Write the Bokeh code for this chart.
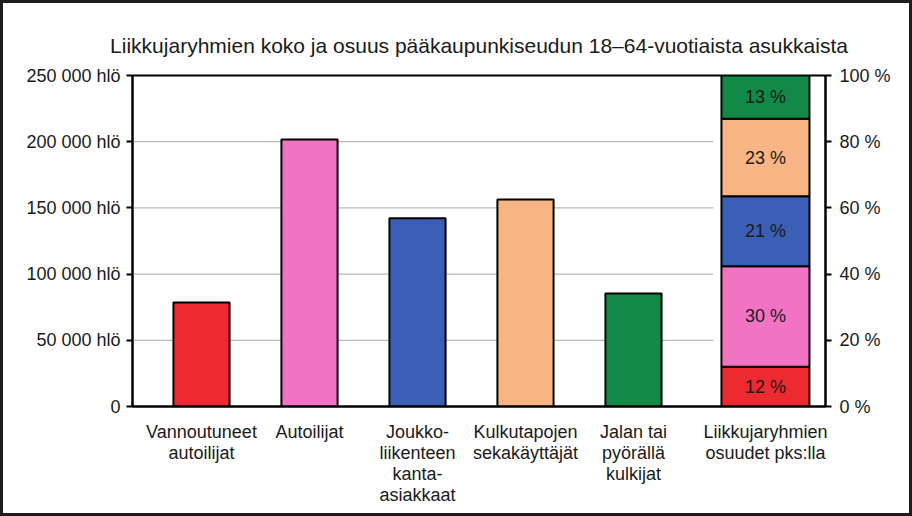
from bokeh.plotting import figure
from bokeh.models import Range1d, LinearAxis, FixedTicker, ColumnDataSource
from bokeh.core.properties import value
from bokeh.embed import file_html
from bokeh.resources import INLINE

# ---------------- data ----------------
title_text = "Liikkujaryhmien koko ja osuus pääkaupunkiseudun 18–64-vuotiaista asukkaista"
categories = [
    "Vannoutuneet\nautoilijat",
    "Autoilijat",
    "Joukko-\nliikenteen\nkanta-\nasiakkaat",
    "Kulkutapojen\nsekakäyttäjät",
    "Jalan tai\npyörällä\nkulkijat",
]
group_sizes = [78500, 201600, 142100, 156400, 85300]
share_category = "Liikkujaryhmien\nosuudet pks:lla"
shares = [12.0, 30.4, 21.1, 23.4, 13.1]  # %, bottom to top, same order as categories
colors = ["#ec2a30", "#f273c3", "#3b5fb6", "#f7b583", "#128a47"]
left_ticks = [0, 50000, 100000, 150000, 200000, 250000]
left_tick_labels = ["0", "50 000 hlö", "100 000 hlö", "150 000 hlö", "200 000 hlö", "250 000 hlö"]
right_ticks = [0, 20, 40, 60, 80, 100]
right_tick_labels = ["0 %", "20 %", "40 %", "60 %", "80 %", "100 %"]

FONT = "Liberation Sans"
TXT = "#1a1a1a"

x_start, x_end = 0.361, 6.778
share_x = 6.222
grid_end = 5.74

p = figure(
    width=912, height=516,
    x_range=Range1d(x_start, x_end),
    y_range=Range1d(0, 250000),
    output_backend="svg", toolbar_location=None,
    min_border_left=132, min_border_right=87, min_border_top=75, min_border_bottom=110,
    border_fill_color=None,
    background_fill_color="white",
    styles={"outline": "3px solid #1c1c1c", "outline-offset": "-3px",
            "background-color": "white"},
)
p.extra_y_ranges = {"pct": Range1d(0, 100)}

p.title.text = title_text
p.title.align = "center"
p.title.text_font = FONT
p.title.text_font_size = "21px"
p.title.text_font_style = "normal"
p.title.text_color = TXT
p.title.standoff = 38

p.outline_line_color = "black"
p.outline_line_width = 2
p.xgrid.visible = False
p.ygrid.visible = False

# grid lines
for v in left_ticks[1:-1]:
    p.segment(x0=x_start, y0=v, x1=grid_end, y1=v, line_color="#a8a8a8", line_width=1)

# bars
xs = [i + 1 for i in range(len(categories))]
src = ColumnDataSource(dict(x=xs, top=group_sizes, color=colors))
p.vbar(x="x", top="top", bottom=0, width=0.52, fill_color="color",
       line_color="black", line_width=2, source=src)

# stacked share bar
bottoms, tops, mids = [], [], []
acc = 0.0
for s in shares:
    bottoms.append(acc)
    tops.append(acc + s)
    mids.append(acc + s / 2)
    acc += s
ssrc = ColumnDataSource(dict(
    x=[share_x] * len(shares), bottom=bottoms, top=tops, mid=mids, color=colors,
    label=[f"{round(s)} %" for s in shares],
))
p.vbar(x="x", bottom="bottom", top="top", width=0.815, fill_color="color",
       line_color="black", line_width=2, source=ssrc, y_range_name="pct")
p.text(x="x", y="mid", text="label", source=ssrc, y_range_name="pct",
       text_align="center", text_baseline="middle",
       text_font=value(FONT), text_font_size="18px", text_color=TXT)

# left axis
ya = p.yaxis[0]
ya.ticker = FixedTicker(ticks=left_ticks)
ya.major_label_overrides = {t: l for t, l in zip(left_ticks, left_tick_labels)}
ya.minor_tick_line_color = None
ya.major_tick_in = 0
ya.major_tick_out = 6
ya.axis_line_width = 2
ya.major_tick_line_width = 2
ya.major_label_text_font = FONT
ya.major_label_text_font_size = "18px"
ya.major_label_text_color = TXT
ya.major_label_standoff = 6

# right axis
ra = LinearAxis(y_range_name="pct", ticker=FixedTicker(ticks=right_ticks))
ra.major_label_overrides = {t: l for t, l in zip(right_ticks, right_tick_labels)}
ra.minor_tick_line_color = None
ra.major_tick_in = 0
ra.major_tick_out = 6
ra.axis_line_width = 2
ra.major_tick_line_width = 2
ra.major_label_text_font = FONT
ra.major_label_text_font_size = "18px"
ra.major_label_text_color = TXT
ra.major_label_standoff = 8
p.add_layout(ra, "right")

# x axis
xa = p.xaxis[0]
tick_pos = xs + [share_x]
tick_lab = categories + [share_category]
xa.ticker = FixedTicker(ticks=tick_pos)
xa.major_label_overrides = {t: l for t, l in zip(tick_pos, tick_lab)}
xa.major_tick_line_color = None
xa.minor_tick_line_color = None
xa.axis_line_width = 2
xa.major_label_text_font = FONT
xa.major_label_text_font_size = "18px"
xa.major_label_text_color = TXT
xa.major_label_standoff = 9
xa.major_label_text_line_height = 1.05

open("out.html", "w").write(file_html(p, INLINE))
